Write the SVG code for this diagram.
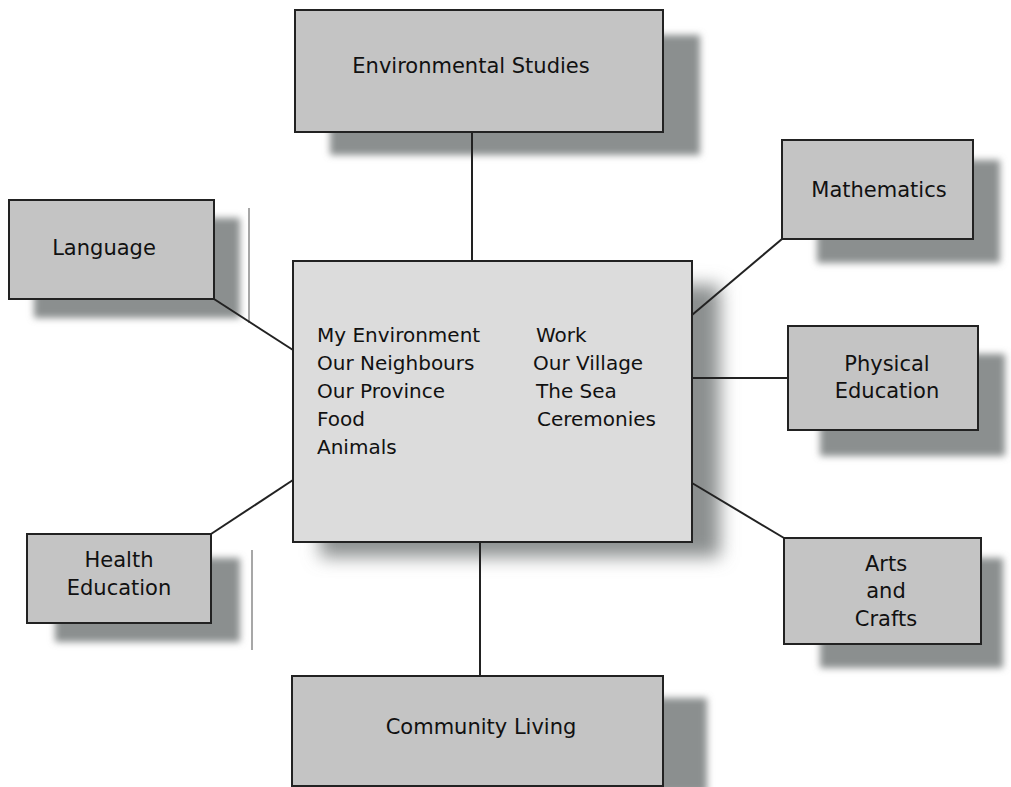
<svg xmlns="http://www.w3.org/2000/svg" width="1011" height="787" viewBox="0 0 1011 787">
  <defs>
    <filter id="blur" x="-20%" y="-20%" width="140%" height="140%">
      <feGaussianBlur stdDeviation="3.5"/>
    </filter>
    <filter id="blurSoft" x="-20%" y="-20%" width="140%" height="140%">
      <feGaussianBlur stdDeviation="9"/>
    </filter>
  </defs>
  <style>
    .shadow { fill: #8b8f8f; filter: url(#blur); }
    .shadow-soft { fill: #8b8f8f; filter: url(#blurSoft); }
    .box { fill: #c4c4c4; stroke: #222; stroke-width: 2; }
    .center { fill: #dcdcdc; stroke: #222; stroke-width: 2; }
    .lbl { font-family: "DejaVu Sans", "Liberation Sans", sans-serif; font-size: 21px; fill: #111; text-anchor: middle; }
    .item { font-family: "DejaVu Sans", "Liberation Sans", sans-serif; font-size: 20px; fill: #111; }
    .conn { stroke: #222; stroke-width: 2; fill: none; }
    .edge { stroke: #8a8a8a; stroke-width: 1.5; }
  </style>
  <rect width="1011" height="787" fill="#ffffff"/>

  <g id="artifacts">
    <line class="edge" x1="249" y1="208" x2="249" y2="323"/>
    <line class="edge" x1="252" y1="550" x2="252" y2="650"/>
  </g>

  <g id="shadows">
    <rect class="shadow" x="330" y="35" width="370" height="120"/>
    <rect class="shadow" x="34" y="218" width="206" height="100"/>
    <rect class="shadow" x="817" y="160" width="183" height="103"/>
    <rect class="shadow" x="820" y="354" width="185" height="102"/>
    <rect class="shadow" x="820" y="558" width="183" height="110"/>
    <rect class="shadow" x="55" y="558" width="185" height="84"/>
    <rect class="shadow" x="327" y="698" width="380" height="95"/>
    <rect class="shadow-soft" x="320" y="285" width="400" height="272"/>
  </g>

  <g id="environmental-studies">
    <rect class="box" x="295" y="10" width="368" height="122"/>
    <text class="lbl" x="471" y="73">Environmental Studies</text>
  </g>

  <g id="language">
    <rect class="box" x="9" y="200" width="205" height="99"/>
    <text class="lbl" x="104" y="255">Language</text>
  </g>

  <g id="mathematics">
    <rect class="box" x="782" y="140" width="191" height="99"/>
    <text class="lbl" x="879" y="197">Mathematics</text>
  </g>

  <g id="physical-education">
    <rect class="box" x="788" y="326" width="190" height="104"/>
    <text class="lbl" x="887" y="371">Physical</text>
    <text class="lbl" x="887" y="398">Education</text>
  </g>

  <g id="arts-and-crafts">
    <rect class="box" x="784" y="538" width="197" height="106"/>
    <text class="lbl" x="886" y="571">Arts</text>
    <text class="lbl" x="886" y="598">and</text>
    <text class="lbl" x="886" y="626">Crafts</text>
  </g>

  <g id="health-education">
    <rect class="box" x="27" y="534" width="184" height="89"/>
    <text class="lbl" x="119" y="567">Health</text>
    <text class="lbl" x="119" y="595">Education</text>
  </g>

  <g id="community-living">
    <rect class="box" x="292" y="676" width="371" height="110"/>
    <text class="lbl" x="481" y="734">Community Living</text>
  </g>

  <g id="central">
    <rect class="center" x="293" y="261" width="399" height="281"/>
    <text class="item" x="317" y="342">My Environment</text>
    <text class="item" x="317" y="370">Our Neighbours</text>
    <text class="item" x="317" y="398">Our Province</text>
    <text class="item" x="317" y="426">Food</text>
    <text class="item" x="317" y="454">Animals</text>
    <text class="item" x="536" y="342">Work</text>
    <text class="item" x="533" y="370">Our Village</text>
    <text class="item" x="536" y="398">The Sea</text>
    <text class="item" x="537" y="426">Ceremonies</text>
  </g>

  <g id="connectors">
    <line class="conn" x1="472" y1="132" x2="472" y2="261"/>
    <line class="conn" x1="214" y1="299" x2="293" y2="350"/>
    <line class="conn" x1="782" y1="239" x2="692" y2="315"/>
    <line class="conn" x1="692" y1="378" x2="788" y2="378"/>
    <line class="conn" x1="692" y1="483" x2="784" y2="538"/>
    <line class="conn" x1="211" y1="534" x2="293" y2="480"/>
    <line class="conn" x1="480" y1="542" x2="480" y2="676"/>
  </g>
</svg>
